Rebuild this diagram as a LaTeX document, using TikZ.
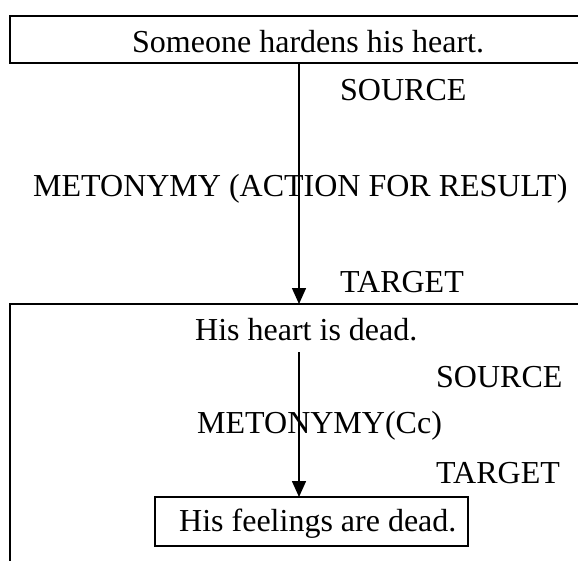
\documentclass[tikz,border=0pt]{standalone}
\usepackage{fontspec}
\setmainfont{Liberation Serif}
\usetikzlibrary{arrows.meta}
\begin{document}
\begin{tikzpicture}[x=1pt,y=-1pt,
  frame/.style={draw,line width=1.5pt,inner sep=0pt,outer sep=0pt},
  lbl/.style={anchor=base west,inner sep=0pt,font=\fontsize{32}{36}\selectfont},
  flow/.style={line width=1.5pt,-{Triangle[width=14pt,length=16pt]}}]
\clip (0,0) rectangle (578,560);
% outer frames (both run past the right/bottom edge)
\node[frame,minimum width=580pt,minimum height=47pt,anchor=north west] (topbox) at (10,16) {};
\node[frame,minimum width=580pt,minimum height=280pt,anchor=north west] (lowbox) at (10,304) {};
% inner frame
\node[frame,minimum width=313pt,minimum height=49pt,anchor=north west] (innerbox) at (155,497) {};
% texts
\node[lbl] (hardens) at (132,52) {Someone hardens his heart.};
\node[lbl] (src1) at (340,100) {SOURCE};
\node[lbl] (meto1) at (33,196) {METONYMY (ACTION FOR RESULT)};
\node[lbl] (tgt1) at (340,292) {TARGET};
\node[lbl] (dead) at (195,340) {His heart is dead.};
\node[lbl] (src2) at (436,387) {SOURCE};
\node[lbl] (meto2) at (197,433) {METONYMY(Cc)};
\node[lbl] (tgt2) at (436,483) {TARGET};
\node[lbl] (feel) at (179,531) {His feelings are dead.};
% arrows
\coordinate (a1) at (299,63);
\coordinate (a2) at (299,352);
\draw[flow] (a1) -- (a1 |- lowbox.north);
\draw[flow] (a2) -- (a2 |- innerbox.north);
\end{tikzpicture}
\end{document}
